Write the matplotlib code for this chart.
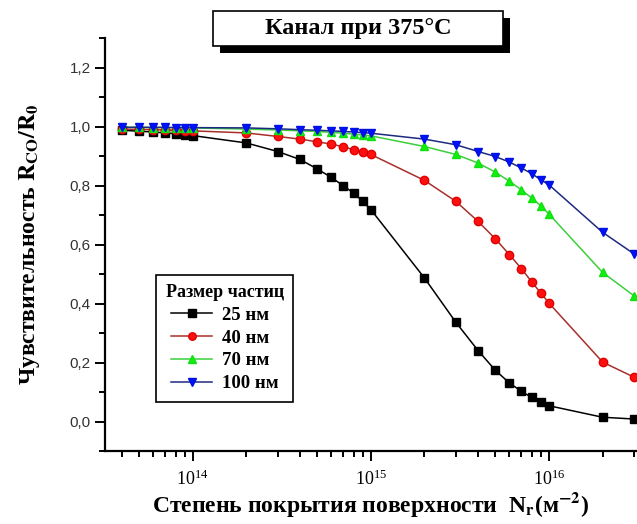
import math

import matplotlib

matplotlib.use("Agg")
import matplotlib.pyplot as plt  # noqa: E402
import matplotlib.patheffects as pe  # noqa: E402
from matplotlib.patches import Rectangle  # noqa: E402
from matplotlib.ticker import FuncFormatter, LogLocator, MultipleLocator  # noqa: E402

plt.rcParams["mathtext.fontset"] = "stix"

SERIF = "Liberation Serif"
SANS = "Liberation Sans"

# surface coverage, m^-2 (same grid for every curve)
coverage = [4e13, 5e13, 6e13, 7e13, 8e13, 9e13, 1e14,
            2e14, 3e14, 4e14, 5e14, 6e14, 7e14, 8e14, 9e14, 1e15,
            2e15, 3e15, 4e15, 5e15, 6e15, 7e15, 8e15, 9e15, 1e16,
            2e16, 3e16]

resp_25 = [0.988, 0.985, 0.982, 0.979, 0.976, 0.973, 0.970,
           0.945, 0.916, 0.889, 0.857, 0.828, 0.800, 0.775, 0.747, 0.719,
           0.487, 0.337, 0.241, 0.174, 0.131, 0.103, 0.082, 0.065, 0.054,
           0.015, 0.009]
resp_40 = [0.992, 0.991, 0.990, 0.989, 0.988, 0.987, 0.986,
           0.979, 0.967, 0.958, 0.949, 0.941, 0.932, 0.922, 0.914, 0.906,
           0.818, 0.747, 0.679, 0.620, 0.566, 0.519, 0.474, 0.436, 0.402,
           0.202, 0.151]
resp_70 = [0.998, 0.998, 0.997, 0.997, 0.997, 0.996, 0.996,
           0.992, 0.989, 0.986, 0.984, 0.981, 0.978, 0.975, 0.972, 0.969,
           0.933, 0.906, 0.877, 0.846, 0.815, 0.786, 0.758, 0.732, 0.704,
           0.506, 0.427]
resp_100 = [0.998, 0.998, 0.998, 0.998, 0.997, 0.997, 0.997,
            0.996, 0.993, 0.990, 0.988, 0.986, 0.984, 0.982, 0.980, 0.978,
            0.958, 0.939, 0.916, 0.899, 0.880, 0.860, 0.841, 0.820, 0.803,
            0.642, 0.569]

labels = ["25 нм", "40 нм", "70 нм", "100 нм"]

fig = plt.figure(figsize=(6.37, 5.24), dpi=100)
ax = fig.add_axes([0.165, 0.139, 0.835, 0.788])

styles = [
    dict(color="black", marker="s", mfc="black", mec="black"),
    dict(color="#a8302a", marker="o", mfc="#ff1010", mec="#e00000"),
    dict(color="#3ccf3c", marker="^", mfc="#10f010", mec="#10e010"),
    dict(color="#1c2a80", marker="v", mfc="#0010ff", mec="#0010e0"),
]
for y, lab, st in zip([resp_25, resp_40, resp_70, resp_100], labels, styles):
    ax.plot(coverage, y, lw=1.1, ms=6, label=lab, **st)

ax.set_xscale("log")
ax.set_xlim(3.22e13, 3.12e16)
ax.set_ylim(-0.1, 1.3)

ax.spines["top"].set_visible(False)
ax.spines["right"].set_visible(False)
ax.spines["left"].set_linewidth(1.6)
ax.spines["bottom"].set_linewidth(1.6)

ax.xaxis.set_major_locator(LogLocator(base=10))
ax.xaxis.set_minor_locator(LogLocator(base=10, subs=range(2, 10)))
ax.xaxis.set_major_formatter(
    FuncFormatter(lambda v, p: r"$\mathregular{10^{%d}}$" % round(math.log10(v))))
ax.yaxis.set_major_locator(MultipleLocator(0.2))
ax.yaxis.set_minor_locator(MultipleLocator(0.1))
ax.yaxis.set_major_formatter(FuncFormatter(lambda v, p: f"{v:.1f}".replace(".", ",")))

ax.tick_params(which="both", direction="out", width=1.4)
ax.tick_params(which="major", length=7)
ax.tick_params(which="minor", length=4.5)
ax.tick_params(axis="x", which="major", pad=6)
for t in ax.get_xticklabels():
    t.set_fontfamily(SERIF)
    t.set_fontsize(13)
for t in ax.get_yticklabels():
    t.set_fontfamily(SANS)
    t.set_fontsize(11)
    t.set_color("#333333")

ax.set_xlabel(r"Степень покрытия поверхности  N$_\mathbf{r}$(м$^{\mathbf{-2}}$)",
              fontfamily=SERIF, fontweight="bold", fontsize=17, labelpad=1)
ax.set_ylabel(r"Чувствительность $\mathbf{R_{CO}/R_0}$",
              fontfamily=SERIF, fontweight="bold", fontsize=17, labelpad=20)

leg = ax.legend(loc="upper left", bbox_to_anchor=(0.096, 0.427), borderaxespad=0,
                title="Размер частиц", fancybox=False, edgecolor="black",
                prop={"family": SERIF, "weight": "bold", "size": 13.5},
                handlelength=2.2, handletextpad=0.5, labelspacing=0.3,
                borderpad=0.5, markerscale=0.9)
leg.get_title().set_fontfamily(SERIF)
leg.get_title().set_fontweight("bold")
leg.get_title().set_fontsize(13)
leg.get_frame().set_linewidth(1.2)
leg.get_frame().set_alpha(1)

# title box with a solid drop shadow
box = Rectangle((213 / 637, 1 - 46 / 524), 290 / 637, 35 / 524,
                transform=fig.transFigure, fc="white", ec="black", lw=1.2)
box.set_path_effects([pe.SimplePatchShadow(offset=(5, -5), shadow_rgbFace="black", alpha=1),
                      pe.Normal()])
fig.add_artist(box)
fig.text(358 / 637, 1 - 28.5 / 524, "Канал при 375°C", ha="center", va="center",
         fontfamily=SERIF, fontweight="bold", fontsize=17.5)

fig.savefig("out.png", dpi=100)
